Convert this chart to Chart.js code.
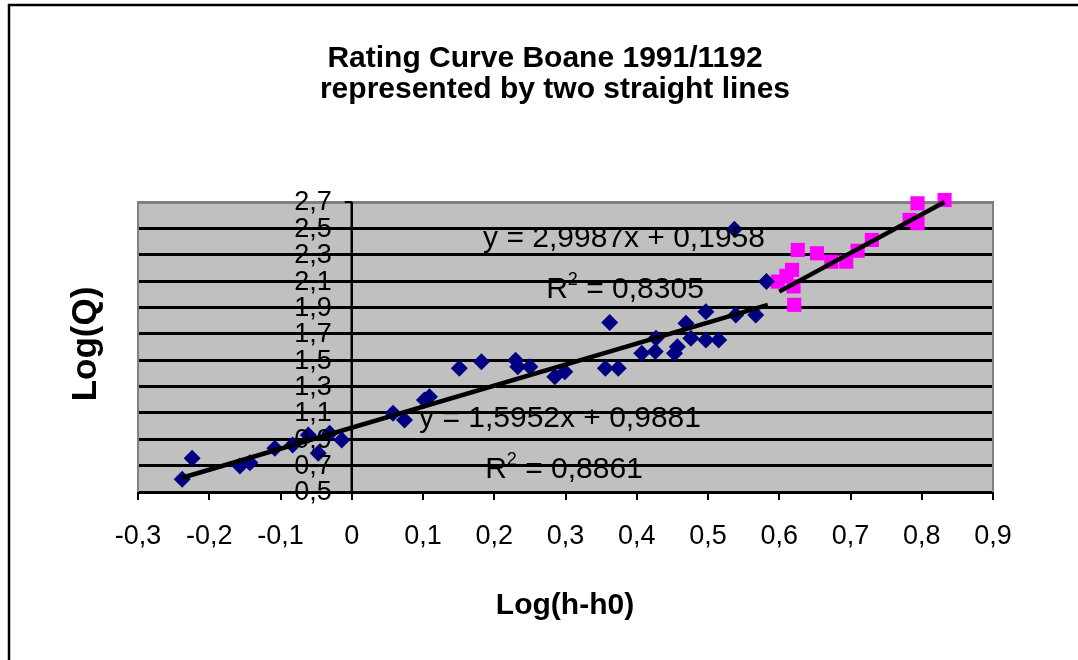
<!DOCTYPE html>
<html lang="en">
<head>
<meta charset="UTF-8" />
<title>Rating Curve Boane 1991/1192</title>
<style>
  html, body { margin: 0; padding: 0; background: #fff; }
</style>
</head>
<body>
<canvas id="rating" width="1078" height="660"></canvas>
<script src="https://cdn.jsdelivr.net/npm/chart.js/dist/chart.umd.min.js"></script>
<script>
// Log(h-h0) / Log(Q), lower part of the curve (diamonds)
const lowX = [-0.238, -0.224, -0.157, -0.143, -0.108, -0.083, -0.061, -0.047, -0.031, -0.014,
  0.058, 0.074, 0.102, 0.109, 0.151, 0.182, 0.230, 0.233, 0.250, 0.285,
  0.299, 0.356, 0.362, 0.374, 0.407, 0.426, 0.427, 0.453, 0.457, 0.469,
  0.476, 0.497, 0.497, 0.515, 0.537, 0.539, 0.567, 0.582];
const lowY = [0.596, 0.756, 0.697, 0.722, 0.831, 0.857, 0.932, 0.794, 0.945, 0.895,
  1.097, 1.046, 1.198, 1.223, 1.439, 1.489, 1.500, 1.451, 1.451, 1.375,
  1.413, 1.439, 1.785, 1.439, 1.552, 1.565, 1.666, 1.552, 1.602, 1.780,
  1.666, 1.868, 1.653, 1.653, 2.493, 1.843, 1.843, 2.096];

// upper part of the curve (squares)
const highX = [0.598, 0.610, 0.618, 0.620, 0.621, 0.626, 0.653, 0.673, 0.694, 0.710,
  0.730, 0.783, 0.794, 0.794, 0.832];
const highY = [2.096, 2.140, 2.185, 2.060, 1.920, 2.336, 2.311, 2.247, 2.247, 2.330,
  2.412, 2.564, 2.539, 2.690, 2.715];

// ends of the two trend lines
const lowFitX = [-0.238, 0.584];
const lowFitY = [0.608, 1.920];
const highFitX = [0.600, 0.832];
const highFitY = [2.020, 2.700];

const lowEquation = 'y = 1,5952x + 0,9881';
const lowR2 = '0,8861';
const highEquation = 'y = 2,9987x + 0,1958';
const highR2 = '0,8305';

const yTicks = [0.5, 0.7, 0.9, 1.1, 1.3, 1.5, 1.7, 1.9, 2.1, 2.3, 2.5, 2.7];

const FONT = '"Liberation Sans", Arial, sans-serif';

function toPoints(xs, ys) {
  return xs.map((x, i) => ({ x: x, y: ys[i] }));
}

function comma(v) {
  return String(Math.round(v * 10) / 10).replace('.', ',');
}

// R² label, superscript drawn by hand
function drawR2(ctx, cx, baseline, value, size) {
  const big = size + 'px ' + FONT;
  const small = Math.round(size * 0.6) + 'px ' + FONT;
  const rest = ' = ' + value;
  ctx.font = big;
  const wR = ctx.measureText('R').width;
  const wRest = ctx.measureText(rest).width;
  ctx.font = small;
  const w2 = ctx.measureText('2').width;
  const x = cx - (wR + w2 + wRest) / 2;
  ctx.textAlign = 'left';
  ctx.font = big;
  ctx.fillText('R', x, baseline);
  ctx.font = small;
  ctx.fillText('2', x + wR, baseline - size * 0.42);
  ctx.font = big;
  ctx.fillText(rest, x + wR + w2, baseline);
}

const decorations = {
  id: 'decorations',
  beforeDraw(chart) {
    const { ctx, chartArea: a } = chart;
    ctx.save();
    ctx.fillStyle = '#fff';
    ctx.fillRect(0, 0, chart.width, chart.height);
    ctx.strokeStyle = '#000';
    ctx.lineWidth = 2.5;
    ctx.strokeRect(9, 5, chart.width + 20, chart.height + 20);
    ctx.fillStyle = '#c0c0c0';
    ctx.fillRect(a.left, a.top, a.right - a.left, a.bottom - a.top);
    ctx.restore();
  },
  beforeDatasetsDraw(chart) {
    const { ctx, chartArea: a, scales: { x, y } } = chart;
    ctx.save();
    ctx.lineWidth = 2;
    ctx.strokeStyle = '#808080';
    ctx.beginPath();
    ctx.moveTo(a.left, a.bottom);
    ctx.lineTo(a.left, a.top);
    ctx.lineTo(a.right, a.top);
    ctx.lineTo(a.right, a.bottom);
    ctx.stroke();
    // value axis crosses at x = 0
    const x0 = x.getPixelForValue(0);
    ctx.strokeStyle = '#000';
    ctx.lineWidth = 2.5;
    ctx.beginPath();
    ctx.moveTo(x0, a.top);
    ctx.lineTo(x0, a.bottom);
    ctx.stroke();
    ctx.lineWidth = 2;
    ctx.beginPath();
    yTicks.forEach(v => {
      const py = y.getPixelForValue(v);
      ctx.moveTo(x0 - 7, py);
      ctx.lineTo(x0, py);
    });
    ctx.stroke();
    ctx.restore();
  },
  afterDatasetsDraw(chart) {
    const { ctx, scales: { x, y } } = chart;
    const x0 = x.getPixelForValue(0);
    ctx.save();
    ctx.fillStyle = '#000';

    // y tick labels
    ctx.font = '27px ' + FONT;
    ctx.textAlign = 'right';
    ctx.textBaseline = 'middle';
    yTicks.forEach(v => ctx.fillText(comma(v), x0 - 20, y.getPixelForValue(v) + 1));

    // trend line labels
    ctx.textBaseline = 'alphabetic';
    ctx.textAlign = 'center';
    ctx.font = '30px ' + FONT;
    ctx.fillText(highEquation, 624, 247);
    ctx.fillText(lowEquation, 560, 427);
    drawR2(ctx, 625, 298, highR2, 30);
    drawR2(ctx, 564, 478, lowR2, 30);

    // title
    ctx.textAlign = 'center';
    ctx.font = 'bold 30px ' + FONT;
    ctx.fillText('Rating Curve Boane 1991/1192', 545, 67);
    ctx.fillText('represented by two straight lines', 555, 98);

    // axis titles
    ctx.font = 'bold 30px ' + FONT;
    ctx.fillText('Log(h-h0)', 565, 614);
    ctx.translate(96, 344);
    ctx.rotate(-Math.PI / 2);
    ctx.font = 'bold 35px ' + FONT;
    ctx.fillText('Log(Q)', 0, 0);
    ctx.restore();
  }
};

new Chart(document.getElementById('rating'), {
  type: 'scatter',
  data: {
    datasets: [
      {
        data: toPoints(lowFitX, lowFitY),
        showLine: true,
        borderColor: '#000',
        borderWidth: 4.5,
        pointRadius: 0,
        clip: false
      },
      {
        data: toPoints(highFitX, highFitY),
        showLine: true,
        borderColor: '#000',
        borderWidth: 4.5,
        pointRadius: 0,
        clip: false
      },
      {
        data: toPoints(lowX, lowY),
        pointStyle: 'rectRot',
        pointRadius: 8.5,
        backgroundColor: '#000080',
        borderColor: '#000080',
        borderWidth: 0,
        clip: false
      },
      {
        data: toPoints(highX, highY),
        pointStyle: 'rect',
        pointRadius: 10,
        backgroundColor: '#ff00ff',
        borderColor: '#ff00ff',
        borderWidth: 0,
        clip: false
      }
    ]
  },
  options: {
    responsive: false,
    animation: false,
    devicePixelRatio: 1,
    layout: { padding: { left: 138, right: 85, top: 202, bottom: 0 } },
    plugins: { legend: { display: false }, tooltip: { enabled: false } },
    scales: {
      x: {
        type: 'linear',
        min: -0.3,
        max: 0.9,
        afterFit(scale) { scale.height = 168; },
        ticks: {
          stepSize: 0.1,
          autoSkip: false,
          maxRotation: 0,
          padding: 20,
          color: '#000',
          font: { family: FONT, size: 27 },
          callback: v => comma(v)
        },
        grid: { drawOnChartArea: false, drawTicks: true, tickLength: 8, color: '#000', lineWidth: 2 },
        border: { display: true, color: '#000', width: 3 }
      },
      y: {
        type: 'linear',
        min: 0.5,
        max: 2.7,
        afterFit(scale) { scale.width = 0; },
        ticks: { stepSize: 0.2, display: false },
        grid: {
          drawTicks: false,
          lineWidth: 3,
          color: c => (c.tick && c.tick.value > 2.65 ? '#808080' : '#000')
        },
        border: { display: false }
      }
    }
  },
  plugins: [decorations]
});
</script>
</body>
</html>
